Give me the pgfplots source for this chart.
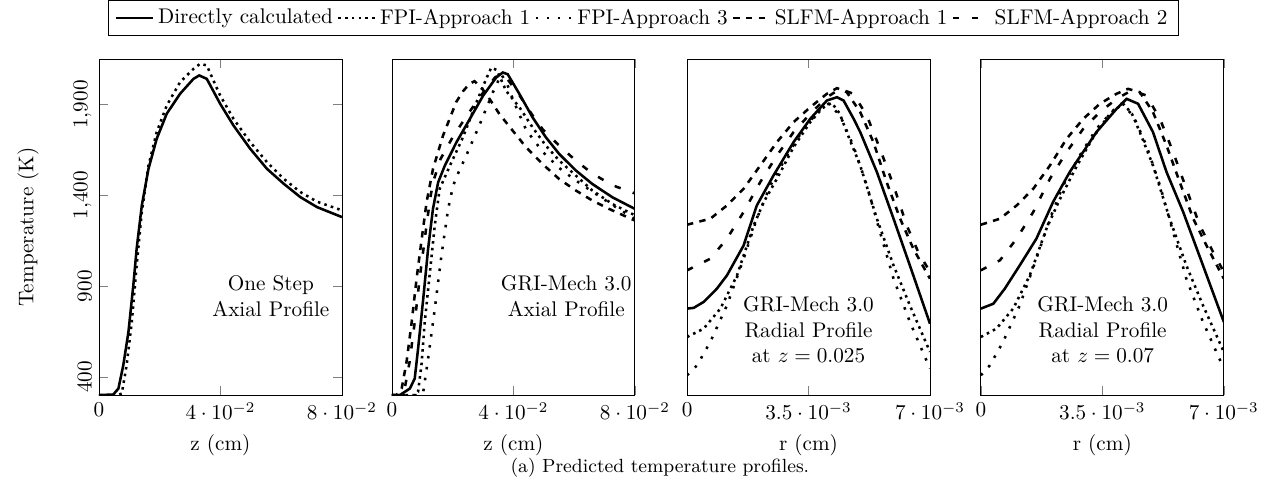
\documentclass[border=0pt]{standalone}
\usepackage{pgfplots}
\pgfplotsset{compat=1.18}
\pgfplotsset{
  dc/.style={black, very thick, solid, mark=none},
  fa/.style={black, very thick, dotted, mark=none},
  fb/.style={black, very thick, loosely dotted, mark=none},
  sa/.style={black, very thick, dashed, mark=none},
  sb/.style={black, very thick, loosely dashed, mark=none},
  base/.style={scale only axis, width=114.6pt, height=158.5pt,
    ymin=300, ymax=2150, anchor=south west, scaled x ticks=false,
    scaled y ticks=false},
  axial/.style={xmin=0, xmax=0.08, xtick={0,0.04,0.08},
    xticklabels={$0$,$4\cdot 10^{-2}$,$8\cdot 10^{-2}$}, xlabel={z (cm)}},
  radial/.style={xmin=0, xmax=0.007, xtick={0,0.0035,0.007},
    xticklabels={$0$,$3.5\cdot 10^{-3}$,$7\cdot 10^{-3}$}, xlabel={r (cm)}},
}
\begin{document}
\begin{tikzpicture}
% ---------------- Panel 1 ----------------
\begin{axis}[base, axial, at={(0pt,0pt)},
  ytick={400,900,1400,1900},
  yticklabel style={rotate=90, anchor=south},
  ylabel={Temperature (K)},
  ylabel style={at={(axis description cs:-0.292,0.5)}, anchor=center}]
\addplot[dc] coordinates {
(0,300) (0.0047,303) (0.0064,336) (0.0080,464) (0.0097,648) (0.0113,904)
(0.0124,1106) (0.0141,1344) (0.0163,1546) (0.0190,1711) (0.0223,1849)
(0.0267,1959) (0.0311,2041) (0.0330,2060) (0.0355,2041) (0.0399,1904)
(0.0443,1784) (0.0498,1656) (0.0553,1546) (0.0608,1464) (0.0663,1390)
(0.0718,1335) (0.0800,1280)};
\addplot[fa] coordinates {
(0,300) (0.0060,300) (0.0075,308) (0.0091,464) (0.0108,702) (0.0124,1014)
(0.0141,1308) (0.0163,1564) (0.0190,1748) (0.0223,1894) (0.0267,2023)
(0.0311,2096) (0.0333,2124) (0.0355,2115) (0.0388,1990) (0.0399,1950)
(0.0443,1821) (0.0498,1693) (0.0553,1583) (0.0608,1491) (0.0663,1418)
(0.0718,1365) (0.0800,1317)};
\node[align=center] at (axis cs:0.0566,845) {One Step\\Axial Profile};
\end{axis}
% ---------------- Panel 2 ----------------
\begin{axis}[base, axial, at={(138.2pt,0pt)}, ytick=\empty,
  legend columns=5,
  legend style={at={(axis description cs:1.035,1.122)}, anchor=center,
    draw=black, font=\normalsize}]
\addplot[dc] coordinates {
(0,300) (0.0026,300) (0.0059,336) (0.0075,391) (0.0086,555) (0.0103,830)
(0.0119,1105) (0.0135,1325) (0.0152,1471) (0.0174,1563) (0.0212,1691)
(0.0256,1819) (0.0300,1948) (0.0343,2048) (0.0365,2076) (0.0381,2067)
(0.0420,1957) (0.0463,1829) (0.0507,1719) (0.0551,1627) (0.0606,1536)
(0.0660,1462) (0.0726,1389) (0.0800,1325)};
\addlegendentry{Directly calculated}
\addplot[fa] coordinates {
(0,300) (0.0075,300) (0.0086,318) (0.0097,464) (0.0108,702) (0.0125,977)
(0.0141,1234) (0.0157,1435) (0.0190,1560) (0.0234,1720) (0.0278,1911)
(0.0310,2040) (0.0327,2103) (0.0345,2090) (0.0376,1975) (0.0420,1884)
(0.0463,1774) (0.0507,1673) (0.0551,1591) (0.0606,1508) (0.0660,1426)
(0.0726,1352) (0.0800,1290)};
\addlegendentry{FPI-Approach 1}
\addplot[fb] coordinates {
(0,300) (0.0090,300) (0.0103,318) (0.0119,500) (0.0141,775) (0.0163,1069)
(0.0185,1325) (0.0201,1450) (0.0212,1500) (0.0245,1620) (0.0289,1790)
(0.0332,1966) (0.0360,2066) (0.0380,2010) (0.0400,1920) (0.0442,1760)
(0.0496,1640) (0.0551,1550) (0.0606,1481) (0.0660,1420) (0.0737,1335)
(0.0800,1270)};
\addlegendentry{FPI-Approach 3}
\addplot[sa] coordinates {
(0,300) (0.0015,300) (0.0032,336) (0.0048,482) (0.0065,702) (0.0081,940)
(0.0098,1160) (0.0114,1362) (0.0135,1544) (0.0168,1728) (0.0212,1915)
(0.0235,1975) (0.0256,2015) (0.0272,2028) (0.0290,2000) (0.0310,1960)
(0.0354,1847) (0.0398,1755) (0.0442,1664) (0.0496,1572) (0.0551,1489)
(0.0606,1426) (0.0660,1371) (0.0715,1325) (0.0800,1261)};
\addlegendentry{SLFM-Approach 1}
\addplot[sb] coordinates {
(0,300) (0.0030,300) (0.0042,336) (0.0058,482) (0.0075,702) (0.0091,940)
(0.0108,1160) (0.0124,1362) (0.0135,1471) (0.0160,1600) (0.0200,1720)
(0.0250,1847) (0.0300,1965) (0.0340,2050) (0.0355,2062) (0.0380,2040)
(0.0420,1950) (0.0463,1840) (0.0496,1764) (0.0551,1673) (0.0606,1590)
(0.0660,1520) (0.0726,1455) (0.0775,1426) (0.0800,1410)};
\addlegendentry{SLFM-Approach 2}
\node[align=center] at (axis cs:0.0574,845) {GRI-Mech 3.0\\Axial Profile};
\end{axis}
% ---------------- Panel 3 ----------------
\begin{axis}[base, radial, at={(277.4pt,0pt)}, ytick=\empty]
\addplot[dc] coordinates {
(0,776) (0.00019,780) (0.00048,813) (0.00086,886) (0.00115,959)
(0.00163,1124) (0.00201,1344) (0.00249,1509) (0.00307,1693) (0.00355,1821)
(0.00403,1922) (0.00432,1940) (0.00451,1922) (0.00480,1821) (0.00499,1748)
(0.00547,1528) (0.00595,1271) (0.00642,1014) (0.00700,693)};
\addplot[fa] coordinates {
(0,620) (0.00048,666) (0.00096,776) (0.00144,959) (0.00192,1234)
(0.00221,1363) (0.00259,1491) (0.00307,1665) (0.00355,1803) (0.00390,1880)
(0.00417,1909) (0.00440,1850) (0.00460,1748) (0.00499,1564) (0.00547,1271)
(0.00595,1014) (0.00642,794) (0.00700,538)};
\addplot[fb] coordinates {
(0,409) (0.00029,464) (0.00067,593) (0.00115,794) (0.00163,1051)
(0.00201,1271) (0.00240,1454) (0.00288,1619) (0.00336,1766) (0.00384,1876)
(0.00408,1904) (0.00441,1839) (0.00479,1674) (0.00518,1454) (0.00556,1198)
(0.00595,941) (0.00642,703) (0.00700,446)};
\addplot[sa] coordinates {
(0,1238) (0.00067,1271) (0.00115,1344) (0.00163,1436) (0.00211,1564)
(0.00259,1693) (0.00307,1803) (0.00355,1885) (0.00403,1959) (0.00432,1990)
(0.00460,1968) (0.00499,1858) (0.00537,1693) (0.00575,1473) (0.00614,1271)
(0.00652,1106) (0.00700,941)};
\addplot[sb] coordinates {
(0,987) (0.00067,1051) (0.00115,1161) (0.00163,1308) (0.00211,1473)
(0.00259,1619) (0.00307,1748) (0.00355,1849) (0.00403,1940) (0.00441,1986)
(0.00479,1959) (0.00518,1839) (0.00556,1656) (0.00595,1454) (0.00633,1234)
(0.00666,1088) (0.00700,978)};
\node[align=center] at (axis cs:0.0035,658) {GRI-Mech 3.0\\Radial Profile\\at $z=0.025$};
\end{axis}
% ---------------- Panel 4 ----------------
\begin{axis}[base, radial, at={(416.0pt,0pt)}, ytick=\empty]
\addplot[dc] coordinates {
(0,776) (0.00036,803) (0.00069,886) (0.00112,1014) (0.00160,1161)
(0.00208,1363) (0.00256,1528) (0.00333,1748) (0.00391,1876) (0.00420,1931)
(0.00453,1904) (0.00496,1748) (0.00535,1528) (0.00583,1308) (0.00640,1014)
(0.00700,703)};
\addplot[fa] coordinates {
(0,620) (0.00045,666) (0.00093,776) (0.00141,959) (0.00189,1216)
(0.00228,1380) (0.00276,1560) (0.00324,1720) (0.00372,1850) (0.00410,1904)
(0.00435,1850) (0.00458,1748) (0.00496,1564) (0.00544,1271) (0.00592,1014)
(0.00640,794) (0.00700,538)};
\addplot[fb] coordinates {
(0,409) (0.00026,464) (0.00064,593) (0.00112,794) (0.00160,1051)
(0.00199,1271) (0.00237,1454) (0.00285,1619) (0.00333,1766) (0.00381,1867)
(0.00405,1904) (0.00439,1839) (0.00477,1674) (0.00516,1454) (0.00554,1198)
(0.00592,941) (0.00640,703) (0.00700,446)};
\addplot[sa] coordinates {
(0,1238) (0.00055,1271) (0.00103,1344) (0.00151,1436) (0.00199,1564)
(0.00247,1711) (0.00295,1821) (0.00343,1904) (0.00391,1959) (0.00424,1986)
(0.00458,1968) (0.00496,1858) (0.00535,1674) (0.00573,1473) (0.00612,1271)
(0.00650,1124) (0.00700,941)};
\addplot[sb] coordinates {
(0,987) (0.00055,1042) (0.00103,1161) (0.00151,1308) (0.00199,1491)
(0.00247,1638) (0.00295,1766) (0.00343,1858) (0.00391,1931) (0.00434,1977)
(0.00477,1950) (0.00516,1821) (0.00554,1638) (0.00592,1436) (0.00631,1234)
(0.00669,1088) (0.00700,978)};
\node[align=center] at (axis cs:0.00351,658) {GRI-Mech 3.0\\Radial Profile\\at $z=0.07$};
\end{axis}
\node[font=\small] at (264.6pt,-34.4pt) {(a) Predicted temperature profiles.};
\path (-46.7pt,-46.2pt) rectangle (552.4pt,185.4pt);
\end{tikzpicture}
\end{document}
